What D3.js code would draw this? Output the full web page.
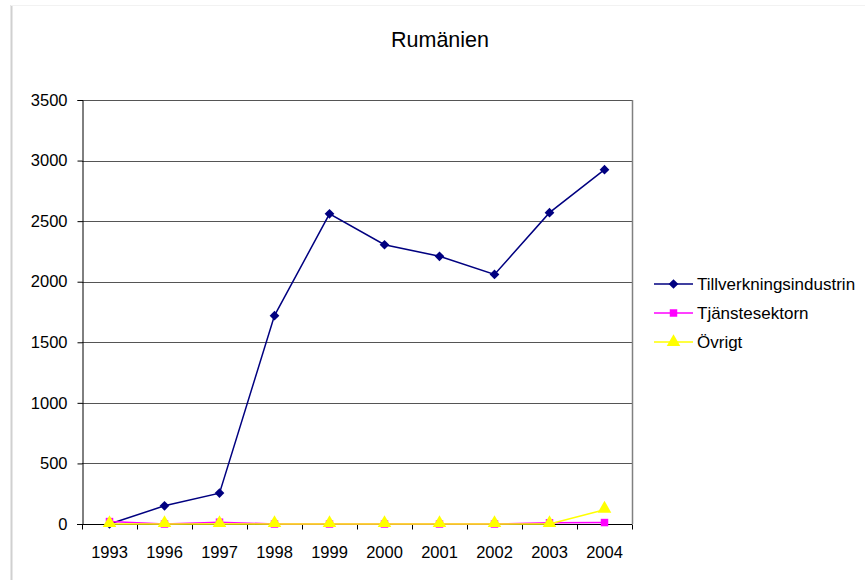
<!DOCTYPE html>
<html>
<head>
<meta charset="utf-8">
<script src="https://cdn.jsdelivr.net/npm/d3@7"></script>
<style>
  body { margin: 0; background: #fff; }
  svg text { font-family: "Liberation Sans", Arial, sans-serif; fill: #000; }
</style>
</head>
<body>
<div id="chart"></div>
<script>
// data
var years = ["1993", "1996", "1997", "1998", "1999", "2000", "2001", "2002", "2003", "2004"];
var tillverkning = [0, 150, 255, 1720, 2560, 2305, 2210, 2060, 2570, 2925];
var tjanste = [20, 0, 15, 0, 0, 0, 0, 0, 10, 12];
var ovrigt = [0, 0, 0, 0, 0, 0, 0, 0, 0, 118];
var yTicks = [0, 500, 1000, 1500, 2000, 2500, 3000, 3500];

var series = [
  {name: "Tillverkningsindustrin", values: tillverkning, color: "#000080", marker: "diamond"},
  {name: "Tjänstesektorn", values: tjanste, color: "#FF00FF", marker: "square"},
  {name: "Övrigt", values: ovrigt, color: "#FFFF00", marker: "triangle"}
];

var W = 865, H = 580;
var margin = {top: 100, left: 82, right: 233, bottom: 56};
var width = W - margin.left - margin.right,
    height = H - margin.top - margin.bottom;

var svg = d3.select("#chart").append("svg")
  .attr("width", W).attr("height", H);

// outer frame (only left and top show)
svg.append("line").attr("x1", 11.5).attr("x2", 11.5).attr("y1", 5).attr("y2", H)
  .attr("stroke", "#d0d0d0").attr("stroke-width", 2);
svg.append("line").attr("x1", 11).attr("x2", W).attr("y1", 5.5).attr("y2", 5.5)
  .attr("stroke", "#f2f2f2").attr("stroke-width", 1);

var g = svg.append("g").attr("transform", "translate(" + margin.left + "," + margin.top + ")");

var x = d3.scaleBand().domain(years).range([0, width]);
var y = d3.scaleLinear().domain([0, 3500]).range([height, 0]);

// gridlines
g.selectAll(".grid").data(yTicks.filter(d => d > 0)).enter().append("line")
  .attr("x1", 0).attr("x2", width)
  .attr("y1", d => Math.round(y(d)) + 0.5).attr("y2", d => Math.round(y(d)) + 0.5)
  .attr("stroke", "#555").attr("stroke-width", 1);

// right border of plot area
g.append("line").attr("x1", width + 0.5).attr("x2", width + 0.5).attr("y1", 0).attr("y2", height)
  .attr("stroke", "#808080").attr("stroke-width", 1.5);

// y axis
var yAxis = g.append("g").attr("transform", "translate(0.5,0)")
  .call(d3.axisLeft(y).tickValues(yTicks).tickFormat(d3.format("d")).tickSize(5).tickPadding(10));
yAxis.select(".domain").attr("stroke", "#000");
yAxis.selectAll("text").style("font-size", "16.5px");

// x axis with ticks at band edges
var xAxis = g.append("g").attr("transform", "translate(0," + (height + 0.5) + ")");
xAxis.append("line").attr("x1", -5).attr("x2", width).attr("stroke", "#000");
xAxis.selectAll(".tk").data(d3.range(years.length + 1)).enter().append("line")
  .attr("x1", i => Math.round(i * x.step()) + 0.5).attr("x2", i => Math.round(i * x.step()) + 0.5)
  .attr("y1", 0).attr("y2", 5).attr("stroke", "#000");
xAxis.selectAll(".lbl").data(years).enter().append("text")
  .attr("x", d => x(d) + x.bandwidth() / 2)
  .attr("y", 33)
  .attr("text-anchor", "middle")
  .style("font-size", "16.5px")
  .text(d => d);

var symbolFor = {
  diamond: d3.symbol().type(d3.symbolDiamond2).size(60),
  square: d3.symbol().type(d3.symbolSquare).size(56),
  triangle: d3.symbol().type(d3.symbolTriangle).size(80)
};

var line = d3.line()
  .x((d, i) => x(years[i]) + x.bandwidth() / 2)
  .y(d => y(d));

// series in order, later ones on top
series.forEach(function (s) {
  g.append("path").datum(s.values)
    .attr("d", line)
    .attr("fill", "none")
    .attr("stroke", s.color)
    .attr("stroke-width", 1.5);
  g.selectAll(".m-" + s.marker).data(s.values).enter().append("path")
    .attr("transform", (d, i) => "translate(" + (x(years[i]) + x.bandwidth() / 2) + "," + (y(d) - (s.marker == "triangle" ? 1 : 0)) + ")")
    .attr("d", symbolFor[s.marker])
    .attr("fill", s.color);
});

// title
svg.append("text").attr("x", 440).attr("y", 47)
  .attr("text-anchor", "middle")
  .style("font-size", "21.5px")
  .text("Rumänien");

// legend
var legend = svg.selectAll(".legend").data(series).enter().append("g")
  .attr("transform", (d, i) => "translate(654," + (284 + i * 29) + ")");
legend.append("line").attr("x1", 0).attr("x2", 39)
  .attr("stroke", d => d.color).attr("stroke-width", 1.5);
legend.append("path")
  .attr("transform", "translate(19.5,0)")
  .attr("d", d => symbolFor[d.marker]())
  .attr("fill", d => d.color);
legend.append("text").attr("x", 43).attr("y", 6)
  .style("font-size", "17px")
  .text(d => d.name);
</script>
</body>
</html>
